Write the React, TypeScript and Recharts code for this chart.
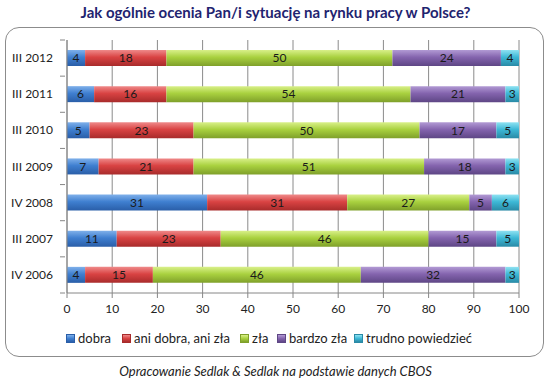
import React from "react"
import { BarChart, Bar, XAxis, YAxis, CartesianGrid, LabelList } from "recharts"

const periods = ["III 2012", "III 2011", "III 2010", "III 2009", "IV 2008", "III 2007", "IV 2006"]
const dobra = [4, 6, 5, 7, 31, 11, 4]
const aniDobraAniZla = [18, 16, 23, 21, 31, 23, 15]
const zla = [50, 54, 50, 51, 27, 46, 46]
const bardzoZla = [24, 21, 17, 18, 5, 15, 32]
const trudnoPowiedziec = [4, 3, 5, 3, 6, 5, 3]
const xTicks = [0, 10, 20, 30, 40, 50, 60, 70, 80, 90, 100]

const series = [
  { key: "dobra", name: "dobra", values: dobra, top: "#7fb0ea", mid: "#3f7fd0", bottom: "#2a5ea8" },
  { key: "ani", name: "ani dobra, ani zła", values: aniDobraAniZla, top: "#ef8a8a", mid: "#d94343", bottom: "#a82b2b" },
  { key: "zla", name: "zła", values: zla, top: "#d9f08a", mid: "#a9d13f", bottom: "#7fa02a" },
  { key: "bardzo", name: "bardzo zła", values: bardzoZla, top: "#b29ad4", mid: "#8464ae", bottom: "#5e4685" },
  { key: "trudno", name: "trudno powiedzieć", values: trudnoPowiedziec, top: "#8fe2f2", mid: "#3db8d6", bottom: "#2a8aa6" },
]

const data = periods.map((p, i) => {
  const row: Record<string, string | number> = { period: p }
  series.forEach((s) => (row[s.key] = s.values[i]))
  return row
})

const FONT = "Lato, 'Open Sans', sans-serif"
const PLOT_TOP = 40
const PLOT_BOTTOM = 293
const BAND = (PLOT_BOTTOM - PLOT_TOP) / periods.length

const CategoryTick = (props: any) => {
  const { x, y, payload, index } = props
  return (
    <g>
      <line x1={x + 1} x2={x + 6} y1={y - BAND / 2} y2={y - BAND / 2} stroke="#868686" />
      {index === periods.length - 1 && (
        <line x1={x + 1} x2={x + 6} y1={y + BAND / 2} y2={y + BAND / 2} stroke="#868686" />
      )}
      <text x={x - 6} y={y} dy={4} textAnchor="end" fontSize={12} fill="#222" fontFamily={FONT}>
        {payload.value}
      </text>
    </g>
  )
}

export default function App() {
  return (
    <div style={{ position: "absolute", left: 0, top: 0, width: 551, height: 382, background: "#fff", fontFamily: FONT }}>
      <div
        style={{
          position: "absolute",
          left: 0,
          top: 3,
          width: 551,
          textAlign: "center",
          fontSize: 15,
          fontWeight: 700,
          color: "#1f2470",
        }}
      >
        Jak ogólnie ocenia Pan/i sytuację na rynku pracy w Polsce?
      </div>
      <div
        style={{
          position: "absolute",
          left: 5,
          top: 27,
          width: 539,
          height: 330,
          border: "1px solid #8c8c8c",
          borderRadius: 14,
          boxSizing: "border-box",
        }}
      />
      <div style={{ position: "absolute", left: 0, top: 0 }}>
        <BarChart
          width={551}
          height={330}
          data={data}
          layout="vertical"
          margin={{ top: PLOT_TOP, right: 32, left: 7, bottom: 330 - PLOT_BOTTOM - 30 }}
        >
          <defs>
            {series.map((s) => (
              <linearGradient key={s.key} id={`grad-${s.key}`} x1="0" y1="0" x2="0" y2="1">
                <stop offset="0%" stopColor={s.top} />
                <stop offset="45%" stopColor={s.mid} />
                <stop offset="100%" stopColor={s.bottom} />
              </linearGradient>
            ))}
          </defs>
          <CartesianGrid horizontal={false} stroke="#8a8a8a" />
          <XAxis
            type="number"
            domain={[0, 100]}
            ticks={xTicks}
            height={30}
            axisLine={{ stroke: "#868686" }}
            tickLine={{ stroke: "#868686" }}
            tickSize={5}
            tick={{ fontSize: 12, fill: "#222", fontFamily: FONT }}
            tickMargin={6}
            interval={0}
          />
          <YAxis
            type="category"
            dataKey="period"
            width={60}
            axisLine={{ stroke: "#868686" }}
            tickLine={false}
            tick={<CategoryTick />}
            interval={0}
          />
          {series.map((s) => (
            <Bar
              key={s.key}
              dataKey={s.key}
              name={s.name}
              stackId="a"
              barSize={16}
              fill={`url(#grad-${s.key})`}
              isAnimationActive={false}
            >
              <LabelList dataKey={s.key} position="center" fontSize={12} fill="#1a1a1a" fontFamily={FONT} />
            </Bar>
          ))}
        </BarChart>
      </div>
      <div style={{ position: "absolute", left: 0, top: 330, width: 551, height: 16, fontSize: 13, color: "#222" }}>
        {series.map((s, i) => {
          const lefts = [66, 122, 240, 277, 354]
          return (
            <div key={s.key} style={{ position: "absolute", left: lefts[i], top: 0, display: "flex", alignItems: "center", whiteSpace: "nowrap" }}>
              <span
                style={{
                  display: "inline-block",
                  width: 7,
                  height: 7,
                  marginRight: 3,
                  background: `linear-gradient(${s.top}, ${s.mid}, ${s.bottom})`,
                  border: `1px solid ${s.bottom}`,
                }}
              />
              {s.name}
            </div>
          )
        })}
      </div>
      <div
        style={{
          position: "absolute",
          left: 0,
          top: 363,
          width: 551,
          textAlign: "center",
          fontSize: 13,
          fontStyle: "italic",
          color: "#222",
        }}
      >
        Opracowanie Sedlak &amp; Sedlak na podstawie danych CBOS
      </div>
    </div>
  )
}
